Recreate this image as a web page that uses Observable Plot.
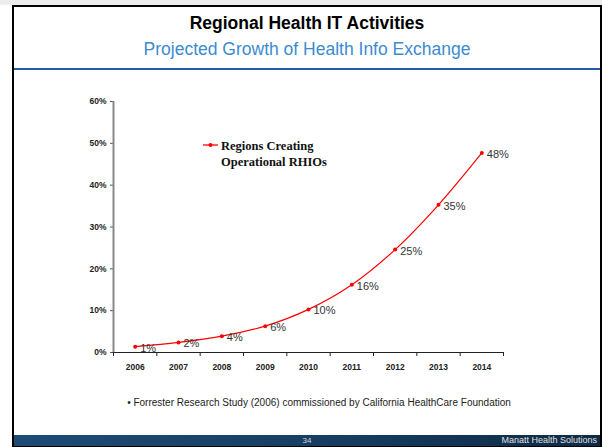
<!DOCTYPE html>
<html>
<head>
<meta charset="utf-8">
<script src="https://cdn.jsdelivr.net/npm/d3@7"></script>
<script src="https://cdn.jsdelivr.net/npm/@observablehq/plot@0.6"></script>
<style>
  html, body { margin: 0; padding: 0; background: #fff; }
  body { width: 602px; height: 447px; position: relative; overflow: hidden; font-family: "Liberation Sans", Arial, sans-serif; }
  .abs { position: absolute; }
  #topstrip { left: 0; top: 0; width: 602px; height: 5px; background: #ececec; }
  #frame { left: 12px; top: 5px; width: 586px; height: 439px; border: 2px solid #000; }
  #title { left: 12px; width: 590px; top: 13px; text-align: center; font-weight: bold; font-size: 17.5px; color: #000; }
  #subtitle { left: 12px; width: 590px; top: 39px; text-align: center; font-size: 17.5px; color: #3c8bd0; }
  #rule { left: 14px; top: 67.5px; width: 586px; height: 2px; background: #1c62a3; }
  #chart { left: 0; top: 80px; }
  #legend { left: 203px; top: 138px; font-family: "Liberation Serif", "Times New Roman", serif; font-weight: bold; font-size: 12.5px; color: #111; }
  #legend .txt { position: absolute; left: 18px; top: 0; line-height: 16px; white-space: nowrap; }
  #legend svg { position: absolute; left: 0; top: 3px; }
  #note { left: 0; width: 602px; top: 397px; text-align: center; font-size: 10px; color: #222; padding-left: 36px; box-sizing: border-box; }
  #footer { left: 14px; top: 435px; width: 586px; height: 11px; background: linear-gradient(to right, #1d4b76, #173f63 50%, #0e2a44); }
  #pagenum { left: 14px; width: 586px; top: 435px; text-align: center; font-size: 8px; color: #d8d8d8; line-height: 11px; }
  #brand { right: 5px; top: 435px; font-size: 9px; color: #e0e0e0; line-height: 11px; }
</style>
</head>
<body>
<div id="topstrip" class="abs"></div>
<div id="frame" class="abs"></div>
<div id="title" class="abs">Regional Health IT Activities</div>
<div id="subtitle" class="abs">Projected Growth of Health Info Exchange</div>
<div id="rule" class="abs"></div>
<div id="chart" class="abs"></div>
<div id="legend" class="abs">
  <svg width="16" height="10"><line x1="0" y1="4" x2="15" y2="4" stroke="#ff0000" stroke-width="1.3"/><circle cx="7.5" cy="4" r="2" fill="#ff0000"/></svg>
  <div class="txt">Regions Creating<br>Operational RHIOs</div>
</div>
<div id="note" class="abs">• Forrester Research Study (2006) commissioned by California HealthCare Foundation</div>
<div id="footer" class="abs"></div>
<div id="pagenum" class="abs">34</div>
<div id="brand" class="abs">Manatt Health Solutions</div>
<script>
// Data
const years = ["2006", "2007", "2008", "2009", "2010", "2011", "2012", "2013", "2014"];
const values = [1.4, 2.4, 3.9, 6.3, 10.3, 16.2, 24.6, 35.3, 47.7];
const valueLabels = ["1%", "2%", "4%", "6%", "10%", "16%", "25%", "35%", "48%"];
const yTicks = [0, 10, 20, 30, 40, 50, 60];

const data = years.map((y, i) => ({ year: y, idx: i + 0.5, value: values[i], label: valueLabels[i] }));

const chart = Plot.plot({
  width: 602,
  height: 302,
  marginLeft: 113,
  marginRight: 99,
  marginTop: 21,
  marginBottom: 30,
  style: { fontFamily: "'Liberation Sans', Arial, sans-serif", background: "transparent", overflow: "visible" },
  x: { type: "linear", domain: [0, years.length], label: null },
  y: { domain: [0, 60], label: null },
  marks: [
    Plot.axisY({ ticks: yTicks, tickFormat: d => d + "%", tickSize: 3, tickPadding: 4, fontWeight: "bold", fontSize: 8.5, fill: "#222", stroke: "#555", label: null }),
    Plot.axisX({ ticks: d3.range(years.length + 1), tickFormat: () => "", tickSize: 4, stroke: "#222", label: null }),
    Plot.axisX({ ticks: data.map(d => d.idx), tickFormat: d => years[Math.floor(d)], tickSize: 0, tickPadding: 11, fontWeight: "bold", fontSize: 8.5, fill: "#222", label: null }),
    Plot.ruleY([0], { stroke: "#222", strokeWidth: 1.2 }),
    Plot.ruleX([0], { stroke: "#888", strokeWidth: 2 }),
    Plot.line(data, { x: "idx", y: "value", stroke: "#ff0000", strokeWidth: 1.2, curve: "catmull-rom" }),
    Plot.dot(data, { x: "idx", y: "value", r: 2, fill: "#ff0000" }),
    Plot.text(data, { x: "idx", y: "value", text: "label", dx: 5, dy: 1.5, textAnchor: "start", fontSize: 11, fill: "#333" })
  ]
});
document.getElementById("chart").appendChild(chart);
</script>
</body>
</html>
